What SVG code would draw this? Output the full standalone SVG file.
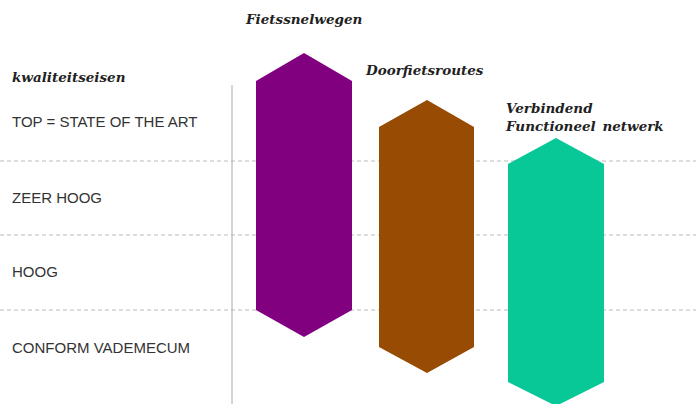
<svg xmlns="http://www.w3.org/2000/svg" width="696" height="404" viewBox="0 0 696 404">
<style>
.t{font-family:"DejaVu Serif","Liberation Serif",serif;font-weight:bold;font-style:italic;font-size:13.5px;fill:#222}
.s{font-family:"Liberation Sans",Arial,sans-serif;font-size:15px;fill:#333}
.d{stroke:#bbb;stroke-width:1;stroke-dasharray:4 3;fill:none}
</style>
<rect width="696" height="404" fill="#fff"/>
<g id="connectors">
<line class="d" x1="0" y1="161" x2="696" y2="161"/>
<line class="d" x1="0" y1="235" x2="696" y2="235"/>
<line class="d" x1="0" y1="310" x2="696" y2="310"/>
<line x1="232" y1="85" x2="232" y2="404" stroke="#aaa" stroke-width="1"/>
</g>
<g id="labels">
<text class="t" x="12" y="82">kwaliteitseisen</text>
<text class="s" x="12" y="127">TOP = STATE OF THE ART</text>
<text class="s" x="12" y="203">ZEER HOOG</text>
<text class="s" x="12" y="277">HOOG</text>
<text class="s" x="12" y="353">CONFORM VADEMECUM</text>
</g>
<g id="fietssnelwegen">
<text class="t" x="246" y="24">Fietssnelwegen</text>
<polygon points="304,53 352,81 352,310 304,337 256,310 256,81" fill="#800080"/>
</g>
<g id="doorfietsroutes">
<text class="t" x="366" y="75">Doorfietsroutes</text>
<polygon points="427,100 474,127 474,347 427,373 379,347 379,127" fill="#974b03"/>
</g>
<g id="verbindend">
<text class="t" x="506" y="113">Verbindend</text>
<text class="t" x="506" y="131" word-spacing="2">Functioneel netwerk</text>
<polygon points="556,138 604,164 604,382 556,406 508,382 508,164" fill="#08c897"/>
</g>
</svg>
